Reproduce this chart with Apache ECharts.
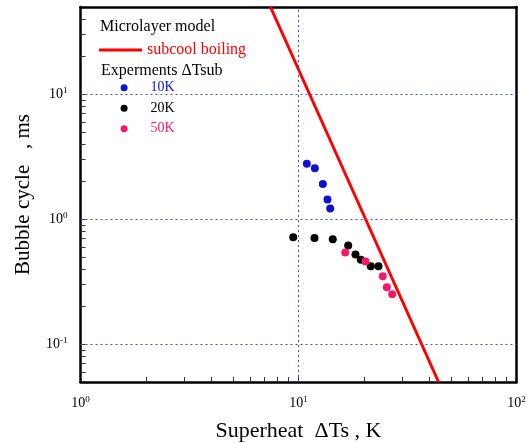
<!DOCTYPE html>
<html>
<head>
<meta charset="utf-8">
<script src="https://cdn.jsdelivr.net/npm/echarts@6/dist/echarts.min.js"></script>
<style>
html, body { margin: 0; padding: 0; background: #fff; }
#chart { width: 531px; height: 443px; }
</style>
</head>
<body>
<div id="chart"></div>
<script>
// model line (microlayer model, subcool boiling)
var modelX = [7.44, 43.9];
var modelY = [50, 0.05];

// experiments, dTsub = 10K / 20K / 50K
var sub10X = [10.92, 11.88, 12.93, 13.58, 13.98];
var sub10Y = [2.78, 2.56, 1.92, 1.44, 1.22];
var sub20X = [9.46, 11.84, 14.36, 16.9, 18.26, 19.31, 21.46, 23.28];
var sub20Y = [0.72, 0.711, 0.693, 0.618, 0.523, 0.475, 0.422, 0.422];
var sub50X = [16.38, 20.29, 24.36, 25.41, 26.9];
var sub50Y = [0.543, 0.46, 0.351, 0.287, 0.252];

// dotted grid lines at the decades
var xGridValues = [10];
var yGridValues = [0.1, 1, 10];

// minor tick positions
var xMinorTicks = [2, 3, 4, 5, 6, 7, 8, 9, 10, 20, 30, 40, 50, 60, 70, 80, 90];
var yMinorTicks = [0.06, 0.07, 0.08, 0.09, 0.1, 0.2, 0.3, 0.4, 0.5, 0.6, 0.7, 0.8, 0.9, 1,
    2, 3, 4, 5, 6, 7, 8, 9, 10, 20, 30, 40];

var serif = 'Liberation Serif, Times New Roman, serif';
var gridBlue = '#4646ec';
var blue = '#1010d2';
var pink = '#f5186c';

function pairs(xs, ys) {
    return xs.map(function(x, i) {
        return [x, ys[i]];
    });
}

// 10^n labels, other values blank
function powLabel(v) {
    var l = Math.log10(v);
    var e = Math.round(l);
    if (Math.abs(l - e) > 1e-6) {
        return '';
    }
    return '{b|10}{s|' + e + '}';
}

var labelRich = {
    b: { fontSize: 14, fontFamily: serif, color: '#000' },
    s: { fontSize: 9, fontFamily: serif, color: '#000', padding: [0, 0, 8, 0] }
};

// plain axis used only to draw a frame edge or minor ticks
function frameAxis(pos, min, max, ticks) {
    return {
        type: 'log',
        min: min,
        max: max,
        position: pos,
        axisLine: { show: !ticks, onZero: false, lineStyle: { color: '#000', width: 2.5 } },
        axisLabel: { show: false },
        splitLine: { show: false },
        axisTick: ticks ? {
            show: true,
            inside: true,
            length: 5,
            customValues: ticks,
            lineStyle: { color: '#333', width: 1 }
        } : { show: false }
    };
}

var gridMarks = xGridValues.map(function(v) {
    return { xAxis: v };
}).concat(yGridValues.map(function(v) {
    return { yAxis: v };
}));

var chart = echarts.init(document.getElementById('chart'));

var option = {
    animation: false,
    grid: {
        left: 80.5,
        right: 14.5,
        top: 7,
        bottom: 61,
        containLabel: false,
        outerBoundsMode: 'none'
    },
    title: [{
        text: 'Microlayer model',
        left: 100,
        top: 19,
        padding: 0,
        textStyle: { fontSize: 16, fontWeight: 'normal', fontFamily: serif, color: '#000' }
    }, {
        text: 'Experments \u0394Tsub',
        left: 101,
        top: 63,
        padding: 0,
        textStyle: { fontSize: 16, fontWeight: 'normal', fontFamily: serif, color: '#000' }
    }],
    legend: [{
        data: ['subcool boiling'],
        left: 99,
        top: 42,
        padding: 0,
        icon: 'rect',
        itemWidth: 43,
        itemHeight: 3,
        selectedMode: false,
        textStyle: { fontSize: 16, fontFamily: serif, color: '#ff0000' }
    }, {
        data: [
            { name: '10K', textStyle: { color: blue } },
            { name: '20K', textStyle: { color: '#000' } },
            { name: '50K', textStyle: { color: pink } }
        ],
        orient: 'vertical',
        left: 120.6,
        top: 80.8,
        padding: 0,
        icon: 'circle',
        itemWidth: 43,
        itemHeight: 7,
        itemGap: 6.5,
        selectedMode: false,
        textStyle: { fontSize: 14, fontFamily: serif }
    }],
    xAxis: [{
        type: 'log',
        min: 1,
        max: 100,
        name: 'Superheat  \u0394Ts , K',
        nameLocation: 'middle',
        nameGap: 38,
        nameTextStyle: { fontSize: 22, fontFamily: serif, color: '#000' },
        axisLine: { onZero: false, lineStyle: { color: '#000', width: 2.5 } },
        axisTick: { show: false },
        axisLabel: { formatter: powLabel, rich: labelRich, margin: 13 },
        splitLine: { show: false }
    },
        frameAxis('bottom', 1, 100, xMinorTicks),
        frameAxis('top', 1, 100, null)
    ],
    yAxis: [{
        type: 'log',
        min: 0.05,
        max: 50,
        name: 'Bubble cycle   , ms',
        nameLocation: 'middle',
        nameGap: 47,
        nameTextStyle: { fontSize: 21, fontFamily: serif, color: '#000' },
        axisLine: { onZero: false, lineStyle: { color: '#000', width: 2.5 } },
        axisTick: { show: false },
        axisLabel: { formatter: powLabel, rich: labelRich, margin: 13 },
        splitLine: { show: false }
    },
        frameAxis('left', 0.05, 50, yMinorTicks),
        frameAxis('right', 0.05, 50, null)
    ],
    series: [{
        name: 'subcool boiling',
        type: 'line',
        data: pairs(modelX, modelY),
        showSymbol: false,
        symbol: 'none',
        lineStyle: { color: '#ff0000', width: 3 },
        itemStyle: { color: '#ff0000' },
        z: 3,
        markLine: {
            silent: true,
            symbol: ['none', 'none'],
            label: { show: false },
            lineStyle: { color: gridBlue, width: 1, type: [2, 3] },
            emphasis: { disabled: true },
            data: gridMarks
        }
    }, {
        name: '10K',
        type: 'scatter',
        data: pairs(sub10X, sub10Y),
        symbolSize: 8,
        itemStyle: { color: blue, opacity: 1 },
        z: 4
    }, {
        name: '20K',
        type: 'scatter',
        data: pairs(sub20X, sub20Y),
        symbolSize: 8,
        itemStyle: { color: '#000', opacity: 1 },
        z: 4
    }, {
        name: '50K',
        type: 'scatter',
        data: pairs(sub50X, sub50Y),
        symbolSize: 8,
        itemStyle: { color: pink, opacity: 1 },
        z: 5
    }]
};

chart.setOption(option);
</script>
</body>
</html>
